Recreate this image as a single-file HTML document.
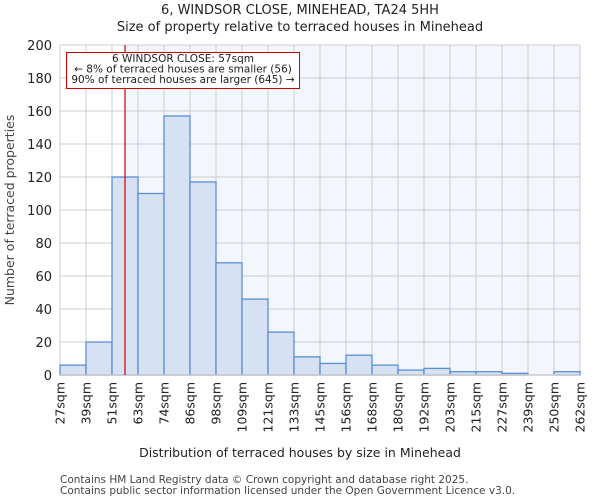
<!DOCTYPE html>
<html><head><meta charset="utf-8"><style>
body{margin:0;background:#fff;font-family:"DejaVu Sans","Liberation Sans",sans-serif;}
</style></head><body>
<svg width="600" height="500" xmlns="http://www.w3.org/2000/svg" font-family="DejaVu Sans, Liberation Sans, sans-serif">
<text x="300" y="14" text-anchor="middle" font-size="13" fill="#222">6, WINDSOR CLOSE, MINEHEAD, TA24 5HH</text>
<text x="300" y="31" text-anchor="middle" font-size="13" fill="#222">Size of property relative to terraced houses in Minehead</text>
<g id="plot"></g>
<text x="300" y="457" text-anchor="middle" font-size="12.5" fill="#222">Distribution of terraced houses by size in Minehead</text>
<text transform="translate(14,210) rotate(-90)" text-anchor="middle" font-size="12.5" fill="#444">Number of terraced properties</text>
<text x="60" y="483" font-size="10.5" fill="#444">Contains HM Land Registry data © Crown copyright and database right 2025.</text>
<text x="60" y="494" font-size="10.5" fill="#444">Contains public sector information licensed under the Open Government Licence v3.0.</text>
</svg>
<script>
const tickLabels=["27sqm","39sqm","51sqm","63sqm","74sqm","86sqm","98sqm","109sqm","121sqm","133sqm","145sqm","156sqm","168sqm","180sqm","192sqm","203sqm","215sqm","227sqm","239sqm","250sqm","262sqm"];
const counts=[6,20,120,110,157,117,68,46,26,11,7,12,6,3,4,2,2,1,0,2];
const yTicks=[0,20,40,60,80,100,120,140,160,180,200];
const subjectBinPos=2.5;
const NS="http://www.w3.org/2000/svg";
const g=document.getElementById('plot');
const x0=60,x1=580,y0=375,y1=45,yMax=200;
const bw=(x1-x0)/counts.length;
const X=i=>x0+i*bw;
const Y=v=>y0-(v/yMax)*(y0-y1);
function mk(t,a){const e=document.createElementNS(NS,t);for(const k in a)e.setAttribute(k,a[k]);g.appendChild(e);return e;}
const rx=X(subjectBinPos);
let e=mk('rect',{x:rx,y:y1,width:x1-rx,height:y0-y1,fill:'#f3f6fd'});


yTicks.forEach(t=>{
 let l=mk('line',{x1:x0,x2:x1,y1:Y(t),y2:Y(t),stroke:'#cccccc','stroke-width':1});
 
 
 let tx=mk('text',{x:x0-8,y:Y(t)+5,'text-anchor':'end','font-size':13,fill:'#222'});
 tx.textContent=t;
 
 
});
tickLabels.forEach((s,i)=>{
 let l=mk('line',{x1:X(i),x2:X(i),y1:y1,y2:y0,stroke:'#cccccc','stroke-width':1});
 
 
 let tx=mk('text',{transform:`translate(${X(i)+4.5},382) rotate(-90)`,'text-anchor':'end','font-size':12.5,fill:'#222'});
 tx.textContent=s;
 
 
});
counts.forEach((c,i)=>{
 if(c<=0)return;
 let r=mk('rect',{x:X(i),y:Y(c),width:bw,height:y0-Y(c),fill:'#d6e2f3',stroke:'#5a8ed6','stroke-width':1.3});
 
 
});
let ax=mk('line',{x1:x0,x2:x1,y1:y0,y2:y0,stroke:'#cccccc','stroke-width':1.5});


let red=mk('line',{x1:rx,x2:rx,y1:y1,y2:y0,stroke:'#cc0000','stroke-width':1.2});


let box=mk('rect',{x:66.5,y:52.5,width:233,height:36,fill:'#fff',stroke:'#cc0000','stroke-width':1});


["6 WINDSOR CLOSE: 57sqm","← 8% of terraced houses are smaller (56)","90% of terraced houses are larger (645) →"].forEach((s,i)=>{
 let t=mk('text',{x:183,y:62+i*10.5,'text-anchor':'middle','font-size':10.5,fill:'#222'});
 t.textContent=s;
 
 
});
</script>
</body></html>
